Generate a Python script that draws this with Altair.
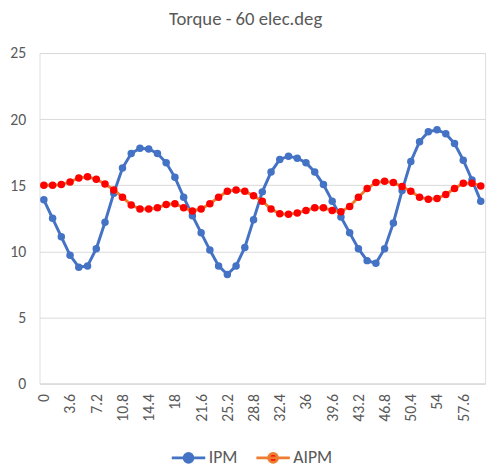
import altair as alt
import pandas as pd

angles = ["0", "1.2", "2.4", "3.6", "4.8", "6", "7.2", "8.4", "9.6", "10.8",
          "12", "13.2", "14.4", "15.6", "16.8", "18", "19.2", "20.4", "21.6", "22.8",
          "24", "25.2", "26.4", "27.6", "28.8", "30", "31.2", "32.4", "33.6", "34.8",
          "36", "37.2", "38.4", "39.6", "40.8", "42", "43.2", "44.4", "45.6", "46.8",
          "48", "49.2", "50.4", "51.6", "52.8", "54", "55.2", "56.4", "57.6", "58.8", "60"]

ipm = [13.9, 12.5, 11.1, 9.7, 8.8, 8.9, 10.2, 12.2, 14.4, 16.3,
       17.4, 17.8, 17.75, 17.4, 16.7, 15.6, 14.1, 12.7, 11.4, 10.1,
       8.9, 8.25, 8.9, 10.3, 12.4, 14.5, 16.0, 16.95, 17.2, 17.05,
       16.7, 16.0, 15.05, 13.8, 12.6, 11.4, 10.2, 9.3, 9.1, 10.2,
       12.15, 14.6, 16.8, 18.3, 19.05, 19.2, 18.9, 18.15, 16.9, 15.4, 13.8]

aipm = [15.0, 15.0, 15.05, 15.25, 15.55, 15.65, 15.45, 15.1, 14.65, 14.1,
        13.5, 13.2, 13.2, 13.3, 13.55, 13.6, 13.3, 13.05, 13.2, 13.6,
        14.1, 14.55, 14.65, 14.55, 14.2, 13.8, 13.2, 12.85, 12.8, 12.9,
        13.1, 13.3, 13.3, 13.1, 13.0, 13.4, 14.1, 14.75, 15.2, 15.3,
        15.2, 14.9, 14.55, 14.1, 13.95, 14.0, 14.3, 14.75, 15.15, 15.15, 14.95]

x_tick_labels = ["0", "3.6", "7.2", "10.8", "14.4", "18", "21.6", "25.2", "28.8",
                 "32.4", "36", "39.6", "43.2", "46.8", "50.4", "54", "57.6"]

series_names = ["IPM", "AIPM"]
line_colors = ["#4472C4", "#ED7D31"]
marker_colors = ["#4472C4", "#FF0000"]

df = pd.DataFrame({
    "angle": angles * 2,
    "torque": ipm + aipm,
    "series": ["IPM"] * len(angles) + ["AIPM"] * len(angles),
})

FONT = "Carlito, Calibri, Lato, sans-serif"
TXT = "#595959"

x_enc = alt.X("angle:O", sort=angles,
              scale=alt.Scale(paddingInner=0, paddingOuter=0),
              axis=alt.Axis(values=x_tick_labels, labelAngle=270, ticks=False,
                            labelPadding=10, labelFontSize=16, labelColor=TXT,
                            labelFont=FONT, domainColor="#D9D9D9", grid=False,
                            title=None))
y_enc = alt.Y("torque:Q", scale=alt.Scale(domain=[0, 25], nice=False),
              axis=alt.Axis(values=[0, 5, 10, 15, 20, 25], ticks=False, domain=False,
                            labelPadding=14, labelFontSize=16, labelColor=TXT,
                            labelFont=FONT, gridColor="#D9D9D9", title=None))

legend_path = ("M-1,0L1,0M0.26,0A0.26,0.26,0,1,1,-0.26,0"
               "A0.26,0.26,0,1,1,0.26,0Z")

base = alt.Chart(df)

layers = []
for name in series_names:
    sub = base.transform_filter(alt.datum.series == name)
    line = sub.mark_line(strokeWidth=3).encode(
        x=x_enc, y=y_enc,
        color=alt.Color("series:N",
                        scale=alt.Scale(domain=series_names, range=line_colors),
                        legend=alt.Legend(
                            orient="none", legendX=133, legendY=393,
                            direction="horizontal", title=None,
                            symbolType=legend_path, symbolSize=1156,
                            symbolStrokeWidth=3,
                            symbolFillColor=alt.ExprRef(
                                "datum.value == 'IPM' ? '#4472C4' : '#FF0000'"),
                            labelFontSize=18, labelColor=TXT, labelFont=FONT,
                            labelOffset=2, columnPadding=12, padding=0)),
    )
    pts = sub.mark_point(filled=True, size=58, opacity=1).encode(
        x=x_enc, y=y_enc,
        fill=alt.Fill("series:N",
                      scale=alt.Scale(domain=series_names, range=marker_colors),
                      legend=None),
    )
    layers += [line, pts]

chart = alt.layer(*layers).properties(
    width=453, height=336,
    title=alt.TitleParams("Torque - 60 elec.deg", anchor="middle", dx=-17,
                          fontSize=19, font=FONT, color=TXT, fontWeight="normal",
                          offset=17),
    autosize=alt.AutoSizeParams(type="none"),
    padding={"left": 32, "top": 42, "right": 7, "bottom": 81},
).configure_view(stroke="transparent", strokeWidth=0).configure_axisY(
    domain=False, domainOpacity=0, ticks=False).configure_axisX(
    grid=False).configure(background="white")

chart.save("out.html", embed_options={"renderer": "svg", "actions": False})
